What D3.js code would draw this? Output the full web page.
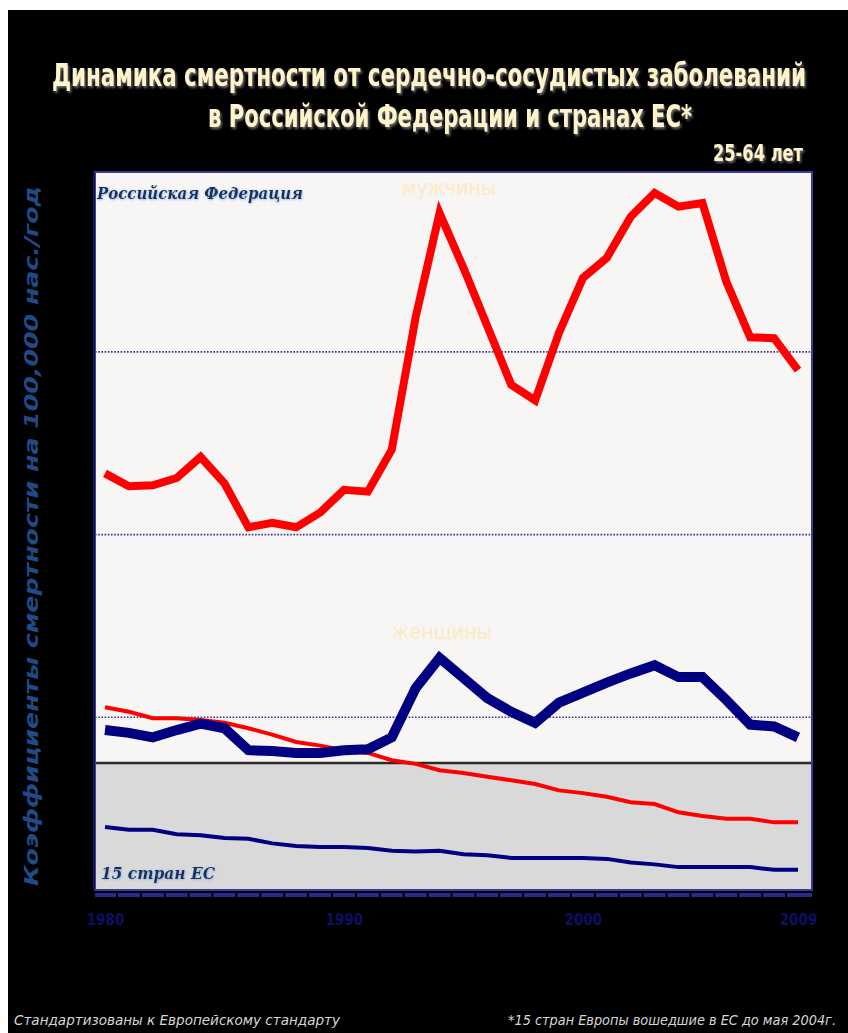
<!DOCTYPE html>
<html>
<head>
<meta charset="utf-8">
<script src="https://cdn.jsdelivr.net/npm/d3@7/dist/d3.min.js"></script>
<style>
  html, body { margin: 0; padding: 0; background: #ffffff; }
  svg { display: block; }
</style>
</head>
<body>
<svg id="chart" width="848" height="1033"></svg>
<script>
// Years 1980–2009
const years = d3.range(1980, 2010);

// Age-standardised CVD mortality, 25-64 years, per 100,000 population per year
const russiaMen = [467, 453, 454, 462, 485, 456, 408, 413, 408, 424,
                   449, 447, 493, 638, 752, 692, 628, 564, 547, 621,
                   681, 703, 748, 774, 759, 763, 677, 616, 615, 580];
const russiaWomen = [186, 183, 178, 186, 193, 188, 164, 163, 161, 161,
                     164, 165, 178, 232, 265, 243, 221, 206, 194, 216,
                     227, 238, 248, 257, 244, 244, 219, 192, 190, 178];
const euMen = [211, 206, 199, 199, 197, 194, 188, 181, 173, 169,
               164, 161, 153, 149, 142, 139, 135, 131, 127, 120,
               117, 113, 107, 105, 96, 92, 89, 89, 85, 85];
const euWomen = [80, 77, 77, 72, 71, 68, 67, 62, 59, 58,
                 58, 57, 54, 53, 54, 50, 49, 46, 46, 46,
                 46, 45, 41, 39, 36, 36, 36, 36, 33, 33];

const gridValues = [200, 400, 600];
const euBandTop = 150;
const tickYears = [1980, 1990, 2000, 2009];

const svg = d3.select("#chart");
const W = 848, H = 1033;

// Page background: black sheet with a thin white margin at top and left
svg.append("rect").attr("x", 0).attr("y", 0).attr("width", W).attr("height", H).attr("fill", "#ffffff");
svg.append("rect").attr("x", 8).attr("y", 10).attr("width", W - 8).attr("height", H - 10).attr("fill", "#000000");

const defs = svg.append("defs");
const sh = defs.append("filter").attr("id", "titleShadow")
  .attr("x", "-5%").attr("y", "-40%").attr("width", "110%").attr("height", "180%");
sh.append("feDropShadow").attr("dx", 1.5).attr("dy", 1.5).attr("stdDeviation", 0.8).attr("flood-color", "#6a6a6a");
const glow = defs.append("filter").attr("id", "softGlow").attr("x", "-5%").attr("y", "-30%").attr("width", "110%").attr("height", "160%");
glow.append("feDropShadow").attr("dx", 0.5).attr("dy", 0.8).attr("stdDeviation", 0.9).attr("flood-color", "#7fb0e0");

// Panel geometry
const panel = { left: 95, right: 812, top: 172, bottom: 890 };

const x = d3.scaleLinear().domain([1980, 2009]).range([105, 798]);
const y = d3.scaleLinear().domain([0, 800]).range([900, 169.2]);

// Title: condensed bold, stretched vertically for a tall poster look
const titleColor = "#fff3cc";
const titleFont = "'DejaVu Sans Condensed', 'DejaVu Sans', sans-serif";
function titleLine(tx, ty, size, stretch, len, anchor, str) {
  svg.append("g")
    .attr("transform", "translate(" + tx + "," + ty + ") scale(1," + stretch + ")")
    .append("text")
    .attr("x", 0).attr("y", 0)
    .attr("text-anchor", anchor)
    .attr("textLength", len).attr("lengthAdjust", "spacingAndGlyphs")
    .attr("font-family", titleFont)
    .attr("font-weight", "bold").attr("font-size", size)
    .attr("fill", titleColor).attr("filter", "url(#titleShadow)")
    .text(str);
}
titleLine(52, 86, 23.5, 1.38, 754, "start", "Динамика смертности  от сердечно-сосудистых  заболеваний");
titleLine(208, 127, 23.5, 1.38, 484, "start", "в Российской  Федерации и странах ЕС*");
titleLine(803, 161, 18, 1.3, 90, "end", "25-64 лет");

// Y axis title
svg.append("text")
  .attr("transform", "translate(38," + ((panel.top + panel.bottom) / 2 + 5) + ") rotate(-90)")
  .attr("text-anchor", "middle")
  .attr("textLength", 700).attr("lengthAdjust", "spacingAndGlyphs")
  .attr("font-family", "'DejaVu Sans', sans-serif")
  .attr("font-style", "italic").attr("font-weight", "bold").attr("font-size", 19)
  .attr("fill", "#1f4a86")
  .text("Коэффициенты смертности на 100,000 нас./год");

// Panel background
svg.append("rect")
  .attr("x", panel.left).attr("y", panel.top)
  .attr("width", panel.right - panel.left).attr("height", panel.bottom - panel.top)
  .attr("fill", "#f8f5f5");

// EU band (shaded lower region)
svg.append("rect")
  .attr("x", panel.left).attr("y", y(euBandTop))
  .attr("width", panel.right - panel.left).attr("height", panel.bottom - y(euBandTop))
  .attr("fill", "#d9d9d9");
svg.append("line")
  .attr("x1", panel.left).attr("x2", panel.right)
  .attr("y1", y(euBandTop)).attr("y2", y(euBandTop))
  .attr("stroke", "#2b2b2b").attr("stroke-width", 2.5);

// Dotted horizontal gridlines
svg.append("g").selectAll("line").data(gridValues).join("line")
  .attr("x1", panel.left).attr("x2", panel.right)
  .attr("y1", d => y(d)).attr("y2", d => y(d))
  .attr("stroke", "#35358a").attr("stroke-width", 1.6)
  .attr("stroke-dasharray", "1.6,1.6");

// Panel frame
svg.append("rect")
  .attr("x", panel.left).attr("y", panel.top)
  .attr("width", panel.right - panel.left).attr("height", panel.bottom - panel.top)
  .attr("fill", "none").attr("stroke", "#3b3b9a").attr("stroke-width", 2);
svg.append("line")
  .attr("x1", panel.left - 1).attr("x2", panel.left - 1)
  .attr("y1", panel.top).attr("y2", panel.bottom)
  .attr("stroke", "#14145a").attr("stroke-width", 2);

// Labels inside the panel
svg.append("text")
  .attr("x", 97).attr("y", 199)
  .attr("textLength", 206).attr("lengthAdjust", "spacingAndGlyphs")
  .attr("font-family", "'DejaVu Serif', serif")
  .attr("font-style", "italic").attr("font-weight", "bold").attr("font-size", 16)
  .attr("fill", "#1c2d5a").attr("filter", "url(#softGlow)")
  .text("Российская  Федерация");
svg.append("text")
  .attr("x", 449).attr("y", 195).attr("text-anchor", "middle")
  .attr("textLength", 94).attr("lengthAdjust", "spacingAndGlyphs")
  .attr("font-family", "'DejaVu Sans Condensed', 'DejaVu Sans', sans-serif")
  .attr("font-size", 22).attr("fill", "#fbebc3")
  .text("мужчины");
svg.append("text")
  .attr("x", 442).attr("y", 639).attr("text-anchor", "middle")
  .attr("textLength", 100).attr("lengthAdjust", "spacingAndGlyphs")
  .attr("font-family", "'DejaVu Sans Condensed', 'DejaVu Sans', sans-serif")
  .attr("font-size", 22).attr("fill", "#fbebc3")
  .text("женщины");
svg.append("text")
  .attr("x", 101).attr("y", 879)
  .attr("textLength", 114).attr("lengthAdjust", "spacingAndGlyphs")
  .attr("font-family", "'DejaVu Serif', serif")
  .attr("font-style", "italic").attr("font-weight", "bold").attr("font-size", 17)
  .attr("fill", "#1c2d5a").attr("filter", "url(#softGlow)")
  .text("15 стран ЕС");

// Series lines
const line = d3.line().x((d, i) => x(years[i])).y(d => y(d)).curve(d3.curveLinear);
const series = [
  { values: euWomen, color: "#000080", width: 4 },
  { values: euMen, color: "#ff0000", width: 4 },
  { values: russiaWomen, color: "#000080", width: 10 },
  { values: russiaMen, color: "#ff0000", width: 8 }
];
svg.append("g").selectAll("path").data(series).join("path")
  .attr("d", d => line(d.values))
  .attr("fill", "none")
  .attr("stroke", d => d.color)
  .attr("stroke-width", d => d.width)
  .attr("stroke-linejoin", "miter")
  .attr("stroke-linecap", "butt");

// Category axis: thick blue rule split at the boundaries between years
const axisY = panel.bottom + 5;
const axisG = svg.append("g");
axisG.append("line")
  .attr("x1", panel.left).attr("x2", panel.right)
  .attr("y1", axisY).attr("y2", axisY)
  .attr("stroke", "#2a2a8c").attr("stroke-width", 4);
const bounds = d3.range(1980.5, 2009, 1);
axisG.selectAll("line.sep").data(bounds).join("line")
  .attr("class", "sep")
  .attr("x1", d => x(d)).attr("x2", d => x(d))
  .attr("y1", axisY - 3).attr("y2", axisY + 3)
  .attr("stroke", "#000000").attr("stroke-width", 2);

// Year labels
const xAxis = d3.axisBottom(x).tickValues(tickYears).tickFormat(d3.format("d")).tickSize(0).tickPadding(0);
const xg = svg.append("g").attr("transform", "translate(0," + 914 + ")").call(xAxis);
xg.select(".domain").remove();
xg.selectAll("text")
  .attr("font-family", "'DejaVu Sans Condensed', sans-serif")
  .attr("font-weight", "bold").attr("font-size", 15)
  .attr("fill", "#0e0e66");

// Footnotes
const noteFont = "'DejaVu Sans Condensed', 'DejaVu Sans', sans-serif";
svg.append("text")
  .attr("x", 14).attr("y", 1025)
  .attr("textLength", 326).attr("lengthAdjust", "spacingAndGlyphs")
  .attr("font-family", noteFont)
  .attr("font-style", "italic").attr("font-size", 14)
  .attr("fill", "#d6d6d6")
  .text("Стандартизованы  к Европейскому стандарту");
svg.append("text")
  .attr("x", 508).attr("y", 1025)
  .attr("textLength", 328).attr("lengthAdjust", "spacingAndGlyphs")
  .attr("font-family", noteFont)
  .attr("font-style", "italic").attr("font-size", 14)
  .attr("fill", "#d6d6d6")
  .text("*15 стран Европы вошедшие в ЕС до мая 2004г.");
</script>
</body>
</html>
